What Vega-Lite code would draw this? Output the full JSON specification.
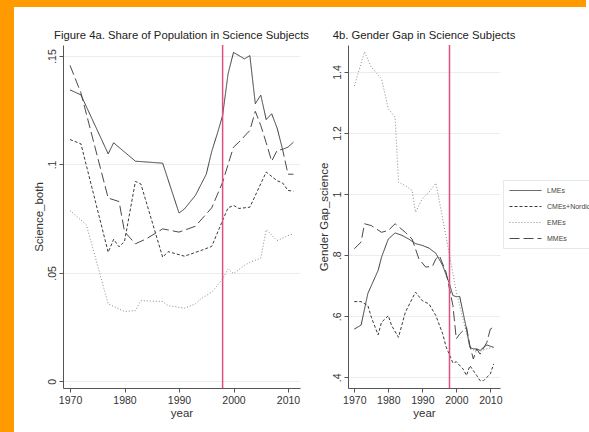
{
 "$schema": "https://vega.github.io/schema/vega-lite/v6.json",
 "padding": 0,
 "background": "white",
 "spacing": 0,
 "config": {
  "font": "Liberation Sans",
  "view": {"stroke": null},
  "axis": {"domainColor": "#555555", "tickColor": "#555555", "labelColor": "#333333", "titleColor": "#333333", "labelFontSize": 10.5, "titleFontSize": 11.5, "titleFontWeight": "normal", "gridColor": "#E6EFEF", "tickSize": 4, "labelOverlap": false},
  "title": {"fontSize": 11.3, "fontWeight": "normal", "color": "#222222", "frame": "group", "anchor": "middle", "offset": 3}
 },
 "datasets": {
  "a": [
   {"group":"LMEs","year":1970,"value":0.1344},{"group":"LMEs","year":1972,"value":0.1321},{"group":"LMEs","year":1977,"value":0.1049},{"group":"LMEs","year":1978,"value":0.110},{"group":"LMEs","year":1982,"value":0.1015},{"group":"LMEs","year":1987,"value":0.1006},{"group":"LMEs","year":1990,"value":0.0776},{"group":"LMEs","year":1991,"value":0.0795},{"group":"LMEs","year":1993,"value":0.0857},{"group":"LMEs","year":1995,"value":0.0955},{"group":"LMEs","year":1996,"value":0.106},{"group":"LMEs","year":1997,"value":0.114},{"group":"LMEs","year":1998,"value":0.1226},{"group":"LMEs","year":1999,"value":0.1418},{"group":"LMEs","year":2000,"value":0.1517},{"group":"LMEs","year":2002,"value":0.1487},{"group":"LMEs","year":2003,"value":0.1502},{"group":"LMEs","year":2004,"value":0.128},{"group":"LMEs","year":2005,"value":0.132},{"group":"LMEs","year":2006,"value":0.1207},{"group":"LMEs","year":2007,"value":0.1234},{"group":"LMEs","year":2008,"value":0.1168},{"group":"LMEs","year":2009,"value":0.107},{"group":"LMEs","year":2010,"value":0.108},{"group":"LMEs","year":2011,"value":0.1103},
   {"group":"CMEs+Nordic","year":1970,"value":0.1115},{"group":"CMEs+Nordic","year":1972,"value":0.1095},{"group":"CMEs+Nordic","year":1977,"value":0.0595},{"group":"CMEs+Nordic","year":1978,"value":0.0655},{"group":"CMEs+Nordic","year":1979,"value":0.062},{"group":"CMEs+Nordic","year":1980,"value":0.0645},{"group":"CMEs+Nordic","year":1982,"value":0.0922},{"group":"CMEs+Nordic","year":1983,"value":0.091},{"group":"CMEs+Nordic","year":1987,"value":0.0572},{"group":"CMEs+Nordic","year":1988,"value":0.0598},{"group":"CMEs+Nordic","year":1991,"value":0.0577},{"group":"CMEs+Nordic","year":1994,"value":0.0603},{"group":"CMEs+Nordic","year":1996,"value":0.0622},{"group":"CMEs+Nordic","year":1998,"value":0.0742},{"group":"CMEs+Nordic","year":1999,"value":0.080},{"group":"CMEs+Nordic","year":2000,"value":0.0811},{"group":"CMEs+Nordic","year":2001,"value":0.0797},{"group":"CMEs+Nordic","year":2003,"value":0.0803},{"group":"CMEs+Nordic","year":2006,"value":0.0965},{"group":"CMEs+Nordic","year":2008,"value":0.0925},{"group":"CMEs+Nordic","year":2009,"value":0.0915},{"group":"CMEs+Nordic","year":2010,"value":0.088},{"group":"CMEs+Nordic","year":2011,"value":0.0877},
   {"group":"EMEs","year":1970,"value":0.0788},{"group":"EMEs","year":1973,"value":0.0721},{"group":"EMEs","year":1977,"value":0.0357},{"group":"EMEs","year":1980,"value":0.0322},{"group":"EMEs","year":1982,"value":0.0326},{"group":"EMEs","year":1983,"value":0.0372},{"group":"EMEs","year":1987,"value":0.0368},{"group":"EMEs","year":1988,"value":0.0349},{"group":"EMEs","year":1991,"value":0.0337},{"group":"EMEs","year":1993,"value":0.0357},{"group":"EMEs","year":1994,"value":0.038},{"group":"EMEs","year":1996,"value":0.0411},{"group":"EMEs","year":1998,"value":0.0472},{"group":"EMEs","year":1999,"value":0.0518},{"group":"EMEs","year":2000,"value":0.0497},{"group":"EMEs","year":2002,"value":0.0534},{"group":"EMEs","year":2003,"value":0.0549},{"group":"EMEs","year":2005,"value":0.0568},{"group":"EMEs","year":2006,"value":0.070},{"group":"EMEs","year":2008,"value":0.0649},{"group":"EMEs","year":2010,"value":0.0672},{"group":"EMEs","year":2011,"value":0.068},
   {"group":"MMEs","year":1970,"value":0.1457},{"group":"MMEs","year":1972,"value":0.133},{"group":"MMEs","year":1977,"value":0.0845},{"group":"MMEs","year":1979,"value":0.0829},{"group":"MMEs","year":1980,"value":0.069},{"group":"MMEs","year":1982,"value":0.0634},{"group":"MMEs","year":1984,"value":0.0657},{"group":"MMEs","year":1987,"value":0.0703},{"group":"MMEs","year":1990,"value":0.0688},{"group":"MMEs","year":1993,"value":0.0715},{"group":"MMEs","year":1996,"value":0.080},{"group":"MMEs","year":1998,"value":0.0918},{"group":"MMEs","year":1999,"value":0.100},{"group":"MMEs","year":2000,"value":0.108},{"group":"MMEs","year":2001,"value":0.1103},{"group":"MMEs","year":2003,"value":0.1157},{"group":"MMEs","year":2004,"value":0.1245},{"group":"MMEs","year":2005,"value":0.118},{"group":"MMEs","year":2006,"value":0.110},{"group":"MMEs","year":2007,"value":0.1015},{"group":"MMEs","year":2008,"value":0.1065},{"group":"MMEs","year":2009,"value":0.107},{"group":"MMEs","year":2010,"value":0.0955},{"group":"MMEs","year":2011,"value":0.0955}
  ],
  "b": [
   {"group":"LMEs","year":1970,"value":0.558},{"group":"LMEs","year":1972,"value":0.571},{"group":"LMEs","year":1974,"value":0.675},{"group":"LMEs","year":1977,"value":0.75},{"group":"LMEs","year":1978,"value":0.793},{"group":"LMEs","year":1980,"value":0.853},{"group":"LMEs","year":1982,"value":0.873},{"group":"LMEs","year":1984,"value":0.865},{"group":"LMEs","year":1986,"value":0.853},{"group":"LMEs","year":1988,"value":0.838},{"group":"LMEs","year":1990,"value":0.832},{"group":"LMEs","year":1992,"value":0.823},{"group":"LMEs","year":1994,"value":0.806},{"group":"LMEs","year":1996,"value":0.766},{"group":"LMEs","year":1998,"value":0.706},{"group":"LMEs","year":1999,"value":0.668},{"group":"LMEs","year":2000,"value":0.664},{"group":"LMEs","year":2001,"value":0.665},{"group":"LMEs","year":2003,"value":0.558},{"group":"LMEs","year":2004,"value":0.498},{"group":"LMEs","year":2005,"value":0.493},{"group":"LMEs","year":2006,"value":0.493},{"group":"LMEs","year":2007,"value":0.488},{"group":"LMEs","year":2008,"value":0.498},{"group":"LMEs","year":2009,"value":0.506},{"group":"LMEs","year":2010,"value":0.502},{"group":"LMEs","year":2011,"value":0.498},
   {"group":"CMEs+Nordic","year":1970,"value":0.648},{"group":"CMEs+Nordic","year":1972,"value":0.648},{"group":"CMEs+Nordic","year":1974,"value":0.635},{"group":"CMEs+Nordic","year":1975,"value":0.597},{"group":"CMEs+Nordic","year":1977,"value":0.539},{"group":"CMEs+Nordic","year":1978,"value":0.58},{"group":"CMEs+Nordic","year":1980,"value":0.602},{"group":"CMEs+Nordic","year":1981,"value":0.569},{"group":"CMEs+Nordic","year":1983,"value":0.531},{"group":"CMEs+Nordic","year":1985,"value":0.613},{"group":"CMEs+Nordic","year":1988,"value":0.679},{"group":"CMEs+Nordic","year":1990,"value":0.651},{"group":"CMEs+Nordic","year":1992,"value":0.64},{"group":"CMEs+Nordic","year":1994,"value":0.602},{"group":"CMEs+Nordic","year":1996,"value":0.542},{"group":"CMEs+Nordic","year":1997,"value":0.5},{"group":"CMEs+Nordic","year":1999,"value":0.447},{"group":"CMEs+Nordic","year":2000,"value":0.451},{"group":"CMEs+Nordic","year":2002,"value":0.427},{"group":"CMEs+Nordic","year":2003,"value":0.406},{"group":"CMEs+Nordic","year":2004,"value":0.438},{"group":"CMEs+Nordic","year":2006,"value":0.406},{"group":"CMEs+Nordic","year":2007,"value":0.389},{"group":"CMEs+Nordic","year":2008,"value":0.389},{"group":"CMEs+Nordic","year":2010,"value":0.411},{"group":"CMEs+Nordic","year":2011,"value":0.444},
   {"group":"EMEs","year":1970,"value":1.354},{"group":"EMEs","year":1973,"value":1.466},{"group":"EMEs","year":1975,"value":1.416},{"group":"EMEs","year":1978,"value":1.378},{"group":"EMEs","year":1980,"value":1.28},{"group":"EMEs","year":1982,"value":1.2525},{"group":"EMEs","year":1983,"value":1.039},{"group":"EMEs","year":1985,"value":1.028},{"group":"EMEs","year":1987,"value":1.012},{"group":"EMEs","year":1988,"value":0.941},{"group":"EMEs","year":1990,"value":0.985},{"group":"EMEs","year":1992,"value":1.007},{"group":"EMEs","year":1994,"value":1.036},{"group":"EMEs","year":1996,"value":0.919},{"group":"EMEs","year":1998,"value":0.8},{"group":"EMEs","year":2000,"value":0.68},{"group":"EMEs","year":2002,"value":0.59},{"group":"EMEs","year":2004,"value":0.5},{"group":"EMEs","year":2006,"value":0.48},{"group":"EMEs","year":2008,"value":0.49},{"group":"EMEs","year":2011,"value":0.5},
   {"group":"MMEs","year":1970,"value":0.821},{"group":"MMEs","year":1972,"value":0.843},{"group":"MMEs","year":1973,"value":0.903},{"group":"MMEs","year":1975,"value":0.897},{"group":"MMEs","year":1978,"value":0.875},{"group":"MMEs","year":1980,"value":0.881},{"group":"MMEs","year":1982,"value":0.903},{"group":"MMEs","year":1985,"value":0.875},{"group":"MMEs","year":1987,"value":0.853},{"group":"MMEs","year":1989,"value":0.788},{"group":"MMEs","year":1991,"value":0.761},{"group":"MMEs","year":1993,"value":0.764},{"group":"MMEs","year":1994,"value":0.788},{"group":"MMEs","year":1995,"value":0.799},{"group":"MMEs","year":1997,"value":0.744},{"group":"MMEs","year":1999,"value":0.635},{"group":"MMEs","year":2000,"value":0.526},{"group":"MMEs","year":2001,"value":0.542},{"group":"MMEs","year":2003,"value":0.564},{"group":"MMEs","year":2004,"value":0.504},{"group":"MMEs","year":2005,"value":0.46},{"group":"MMEs","year":2006,"value":0.493},{"group":"MMEs","year":2007,"value":0.476},{"group":"MMEs","year":2009,"value":0.515},{"group":"MMEs","year":2010,"value":0.558},{"group":"MMEs","year":2011,"value":0.565}
  ]
 },
 "hconcat": [
  {"width": 14, "height": 432, "data": {"values": [{}]}, "mark": {"type": "point", "opacity": 0, "size": 1}, "encoding": {}, "view": {"fill": "#FF9A00", "stroke": null}},
  {"spacing": 22, "vconcat": [
   {"width": 572, "height": 7, "data": {"values": [{}]}, "mark": {"type": "point", "opacity": 0, "size": 1}, "encoding": {}, "view": {"fill": "#FF9A00", "stroke": null}},
   {"bounds": "flush", "spacing": 48,
    "resolve": {"scale": {"color": "independent", "strokeDash": "independent"}, "legend": {"color": "independent", "strokeDash": "independent"}},
    "hconcat": [
     {"width": 1, "height": 343, "data": {"values": [{}]}, "mark": {"type": "point", "opacity": 0, "size": 1}, "encoding": {}},
     {"width": 237, "height": 343, "title": "Figure 4a. Share of Population in Science Subjects",
      "encoding": {
       "x": {"field": "year", "type": "quantitative", "scale": {"domain": [1968.71, 2012.2], "nice": false, "zero": false},
             "axis": {"values": [1970, 1980, 1990, 2000, 2010], "format": "d", "title": "year", "grid": false, "labelPadding": 3, "titlePadding": 2, "labelOverlap": false}}
      },
      "layer": [
       {"data": {"name": "a"}, "mark": {"type": "line", "strokeWidth": 1, "clip": true},
        "encoding": {
         "y": {"field": "value", "type": "quantitative", "scale": {"domain": [-0.0031, 0.1551], "nice": false, "zero": false},
               "axis": {"values": [0, 0.05, 0.1, 0.15], "labelExpr": "datum.value == 0 ? '0' : slice(format(datum.value, '~g'), 1)", "title": "Science_both", "grid": true, "labelAngle": -90, "labelAlign": "center", "labelBaseline": "alphabetic", "labelPadding": 4, "titlePadding": 3, "labelOverlap": false}},
         "color": {"field": "group", "type": "nominal", "scale": {"domain": ["LMEs", "CMEs+Nordic", "EMEs", "MMEs"], "range": ["#3a3a3a", "#3a3a3a", "#8a8a8a", "#4a4a4a"]}, "legend": null},
         "strokeDash": {"field": "group", "type": "nominal", "scale": {"domain": ["LMEs", "CMEs+Nordic", "EMEs", "MMEs"], "range": [[1, 0], [3, 2], [1, 2], [10, 4]]}, "legend": null}
        }},
       {"data": {"values": [{"year": 1998}]}, "mark": {"type": "rule", "color": "#E0507A", "strokeWidth": 1.5}}
      ]},
     {"width": 152, "height": 343, "title": "4b. Gender Gap in Science Subjects",
      "encoding": {
       "x": {"field": "year", "type": "quantitative", "scale": {"domain": [1968.15, 2012.85], "nice": false, "zero": false},
             "axis": {"values": [1970, 1980, 1990, 2000, 2010], "format": "d", "title": "year", "grid": false, "labelPadding": 3, "titlePadding": 2, "labelOverlap": false, "labelSeparation": 0}}
      },
      "layer": [
       {"data": {"name": "b"}, "mark": {"type": "line", "strokeWidth": 1, "clip": true},
        "encoding": {
         "y": {"field": "value", "type": "quantitative", "scale": {"domain": [0.365, 1.4885], "nice": false, "zero": false},
               "axis": {"values": [0.4, 0.6, 0.8, 1, 1.2, 1.4], "labelExpr": "datum.value < 1 ? slice(format(datum.value, '~g'), 1) : format(datum.value, '~g')", "title": "Gender Gap_science", "grid": true, "labelAngle": -90, "labelAlign": "center", "labelBaseline": "alphabetic", "labelPadding": 4, "titlePadding": 3, "labelOverlap": false}},
         "color": {"field": "group", "type": "nominal", "scale": {"domain": ["LMEs", "CMEs+Nordic", "EMEs", "MMEs"], "range": ["#3a3a3a", "#3a3a3a", "#8a8a8a", "#4a4a4a"]},
                   "legend": {"orient": "none", "legendX": 155, "legendY": 135, "title": null, "symbolType": "M-1,0H7", "symbolSize": 64, "symbolStrokeWidth": 1, "labelFontSize": 7, "labelColor": "#444444", "rowPadding": 8, "padding": 6, "fillColor": "white", "strokeColor": "#E3EAEA", "labelOffset": 29}},
         "strokeDash": {"field": "group", "type": "nominal", "scale": {"domain": ["LMEs", "CMEs+Nordic", "EMEs", "MMEs"], "range": [[1, 0], [3, 2], [1, 2], [10, 4]]},
                   "legend": {"orient": "none", "legendX": 155, "legendY": 135, "title": null, "symbolType": "M-1,0H7", "symbolSize": 64, "symbolStrokeWidth": 1, "labelFontSize": 7, "labelColor": "#444444", "rowPadding": 8, "padding": 6, "fillColor": "white", "strokeColor": "#E3EAEA", "labelOffset": 29}}
        }},
       {"data": {"values": [{"year": 1998}]}, "mark": {"type": "rule", "color": "#E0507A", "strokeWidth": 1.5}}
      ]}
    ]}
  ]}
 ]
}
